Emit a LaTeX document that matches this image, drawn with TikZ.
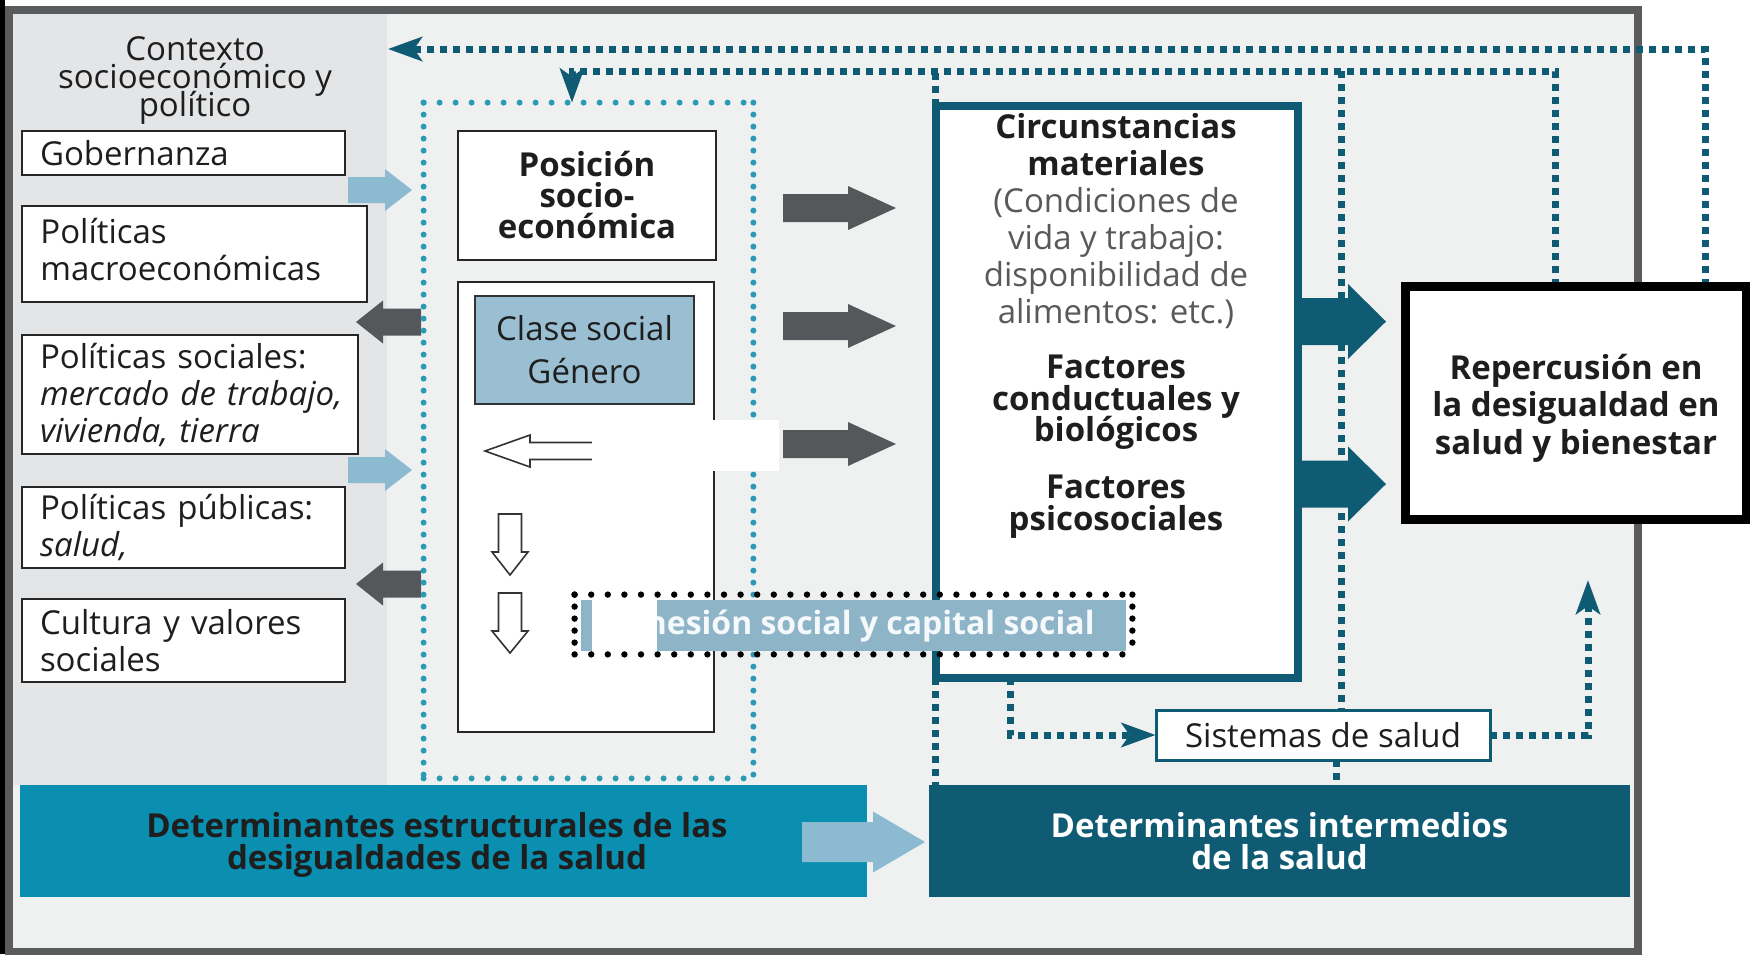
\documentclass[tikz,border=0pt]{standalone}
\usepackage{fontspec}
\setmainfont{Open Sans}
\usetikzlibrary{arrows.meta}
\lineskiplimit=-100pt
\hyphenpenalty=10000
\definecolor{bgc}{HTML}{EFF0F0}
\definecolor{leftc}{HTML}{E4E5E7}
\definecolor{framec}{HTML}{5A5B5D}
\definecolor{darkteal}{HTML}{0E5B73}
\definecolor{dotteal}{HTML}{2A9AB5}
\definecolor{lblue}{HTML}{8BBAD1}
\definecolor{dgray}{HTML}{56575A}
\definecolor{clasef}{HTML}{9ABFD2}
\definecolor{cohf}{HTML}{8EB4C8}
\definecolor{structb}{HTML}{0A8FB0}
\definecolor{graytext}{HTML}{58595B}
\definecolor{ink}{HTML}{1E1E1E}
\newcommand\hblockarrow[7]{%
  \path[#7] (#1,{#4-#5}) -- (#2,{#4-#5}) -- (#2,{#4-#6}) -- (#3,#4) -- (#2,{#4+#6}) -- (#2,{#4+#5}) -- (#1,{#4+#5}) -- cycle;}
\newcommand\vblockarrow[7]{%
  \path[#7] ({#4-#5},#1) -- ({#4-#5},#2) -- ({#4-#6},#2) -- (#4,#3) -- ({#4+#6},#2) -- ({#4+#5},#2) -- ({#4+#5},#1) -- cycle;}
\begin{document}
\begin{tikzpicture}[x=0.5pt,y=-0.5pt,
  every node/.style={text=ink},
  base/.style={font=\fontsize{16.5}{18.5}\selectfont},
  lbox/.style={base, draw=black!85, line width=1.1pt, fill=white, inner xsep=9pt, align=left},
  bbox/.style={draw=black!85, line width=1.1pt, fill=white},
  sqd/.style={darkteal, line width=3.5pt, dash pattern=on 3.5pt off 3pt},
  tip/.style={-{Stealth[length=17pt,width=12pt,inset=4pt]}},
  tdot/.style={dotteal, line width=3pt, line cap=round},
  kdot/.style={black, line width=3.2pt, line cap=round},
  outl/.style={draw=black!80, line width=0.8pt, fill=white}
]
\useasboundingbox (0,0) rectangle (1750,954);
\fill[white] (0,0) rectangle (1750,954);
\fill[black] (0,0) rectangle (5,954);
\fill[bgc] (9,10) rectangle (1638,952);
\fill[leftc] (11,12) rectangle (387,785);
\draw[framec, line width=4pt] (9,10) rectangle (1638,952);

% title of the context panel
\node[align=center, font=\fontsize{16.5}{14}\selectfont] (ctx) at (195,81) {Contexto\\socioecon\'omico y\\pol\'itico};

% left boxes
\node[lbox, minimum width=161.5pt, minimum height=22pt, text width=143.5pt] (gob) at (183.5,153) {Gobernanza};
\node[lbox, minimum width=172.5pt, minimum height=48pt, text width=154.5pt] (mac) at (194.5,254) {};
\node[base, align=left, anchor=west, inner sep=0pt] (mact) at (40,249.5) {Pol\'iticas\\macroecon\'omicas};
\node[lbox, minimum width=168pt, minimum height=59.5pt, text width=150pt] (soc) at (190,394.5) {Pol\'iticas sociales:\\\mbox{\textit{mercado de trabajo,}}\\\textit{vivienda, tierra}};
\node[lbox, minimum width=161.5pt, minimum height=40.5pt, text width=143.5pt] (pub) at (183.5,527.5) {Pol\'iticas p\'ublicas:\\\textit{salud,}};
\node[lbox, minimum width=161.5pt, minimum height=41.5pt, text width=143.5pt] (cul) at (183.5,640.5) {Cultura y valores\\sociales};

% left panel arrows
\hblockarrow{348}{385}{412}{190}{13}{21}{fill=lblue}
\hblockarrow{421}{383}{356}{322}{13.5}{21.5}{fill=dgray}
\hblockarrow{348}{385}{412}{470}{13}{21}{fill=lblue}
\hblockarrow{421}{383}{356}{584}{13.5}{21.5}{fill=dgray}

% dotted connectors
\coordinate (ctxin) at (388,49);
\coordinate (xA) at (1705,0);
\coordinate (xB) at (1555,0);
\coordinate (xC) at (572,0);
\coordinate (xD) at (1341,0);
\coordinate (xE) at (1336,0);
\coordinate (xF) at (1010,0);
\coordinate (yB) at (0,71);
\coordinate (upend) at (1588,580);
\node[minimum width=164.5pt, minimum height=337.5pt, inner sep=0pt] (str) at (588.5,440.5) {};
\node[minimum width=181pt, minimum height=286pt, inner sep=0pt] (intpos) at (1117,392) {};
\node[minimum width=170.5pt, minimum height=116.5pt, inner sep=0pt] (reppos) at (1575.5,402.5) {};
\node[minimum width=167pt, minimum height=25pt, inner sep=0pt] (sispos) at (1323,735) {};
\node[minimum width=350.5pt, minimum height=56pt, inner sep=0pt] (dintpos) at (1279.5,841) {};

\draw[sqd, tip] (reppos.north -| xA) |- (ctxin);
\draw[sqd, tip] (reppos.north -| xB) |- (yB -| xC) -- (str.north -| xC);
\draw[sqd] (intpos.north west) -- (intpos.north west |- yB);
\draw[sqd] (intpos.south west) -- (dintpos.north -| intpos.south west);
\draw[sqd] (yB -| xD) -- (sispos.north -| xD);
\draw[sqd] (sispos.south -| xE) -- (dintpos.north -| xE);
\draw[sqd, tip] (intpos.south -| xF) |- (sispos.west);
\draw[sqd, tip] (sispos.east) -| (upend);

% structural dotted frame
\draw[tdot, dash pattern=on 0pt off 8pt] (str.north west) -- (str.north east) (str.south west) -- (str.south east);
\draw[tdot, dash pattern=on 0pt off 6pt] (str.north west) -- (str.south west) (str.north east) -- (str.south east);

% socioeconomic position
\node[bbox, minimum width=129pt, minimum height=64.5pt, align=center, font=\fontsize{16.5}{15.5}\selectfont\bfseries] (pos) at (587,195.5) {Posici\'on\\socio-\\econ\'omica};
\node[bbox, minimum width=128pt, minimum height=225pt] (grp) at (586,507) {};
\node[draw=black!80, line width=1.2pt, fill=clasef, minimum width=109.5pt, minimum height=54pt, align=center, font=\fontsize{16.5}{21.5}\selectfont] (cla) at (584.5,350) {Clase social\\G\'enero};
\hblockarrow{600}{530}{485}{451}{8.5}{16}{outl}
\vblockarrow{514}{552}{575}{510}{11.5}{18}{outl}
\vblockarrow{593}{631}{653}{510}{11.5}{18}{outl}

% dark grey arrows
\hblockarrow{783}{848}{896}{208}{14}{22}{fill=dgray}
\hblockarrow{783}{848}{896}{326}{14}{22}{fill=dgray}
\hblockarrow{783}{848}{896}{444}{14}{22}{fill=dgray}

% white mask
\fill[white] (592,420) rectangle (779,471);

% intermediate box
\node[draw=darkteal, line width=4pt, fill=white, minimum width=181pt, minimum height=286pt] (int) at (1117,392) {};
\node[base, align=center] (circ) at (1116,221) {\textbf{Circunstancias}\\\textbf{materiales}\\\textcolor{graytext}{(Condiciones de}\\\textcolor{graytext}{vida y trabajo:}\\\textcolor{graytext}{disponibilidad de}\\\textcolor{graytext}{alimentos: etc.)}};
\node[align=center, font=\fontsize{16.5}{15.75}\selectfont\bfseries] (fcb) at (1116,402.5) {Factores\\conductuales y\\biol\'ogicos};
\node[align=center, font=\fontsize{16.5}{15.75}\selectfont\bfseries] (fps) at (1116,506.5) {Factores\\psicosociales};

% cohesion
\node[minimum width=278.5pt, minimum height=29.5pt, inner sep=0pt] (coh) at (853.5,624.5) {};
\fill[cohf] (581,600) rectangle (1126,651);
\draw[kdot, dash pattern=on 0pt off 8.3pt] (coh.north west) -- (coh.north east) (coh.south west) -- (coh.south east);
\draw[kdot, dash pattern=on 0pt off 6pt] (coh.north west) -- (coh.south west) (coh.north east) -- (coh.south east);
\node[font=\fontsize{16}{18.5}\selectfont\bfseries, text=white!92!cohf, anchor=east, inner sep=0pt] (coht) at (1095,626) {Cohesi\'on social y capital social};
\fill[white] (592,599) rectangle (657,651);

% teal arrows to outcome
\hblockarrow{1298}{1348}{1386}{321.5}{23.5}{37.5}{fill=darkteal}
\hblockarrow{1298}{1348}{1386}{484}{23.5}{37.5}{fill=darkteal}

% outcome
\node[draw=black, line width=4.5pt, fill=white, minimum width=170.5pt, minimum height=116.5pt] (rep) at (1575.5,402.5) {};
\node[align=center, font=\fontsize{16.5}{18.75}\selectfont\bfseries] (rept) at (1576,408) {Repercusi\'on en\\la desigualdad en\\salud y bienestar};

% health systems
\node[base, draw=darkteal, line width=1.5pt, fill=white, minimum width=167pt, minimum height=25pt] (sis) at (1323,735) {Sistemas de salud};

% bottom bands
\node[fill=structb, minimum width=423.5pt, minimum height=56pt] (dstr) at (443.5,841) {};
\node[align=center, font=\fontsize{16.5}{16}\selectfont\bfseries] (dstrt) at (437,844.5) {Determinantes estructurales de las\\desigualdades de la salud};
\node[fill=darkteal, minimum width=350.5pt, minimum height=56pt] (dint) at (1279.5,841) {};
\node[text=white, align=center, font=\fontsize{16.5}{16}\selectfont\bfseries] (dintt) at (1279.5,841) {Determinantes intermedios\\de la salud};
\hblockarrow{802}{873}{925}{842}{20}{30.5}{fill=lblue}
\end{tikzpicture}
\end{document}
